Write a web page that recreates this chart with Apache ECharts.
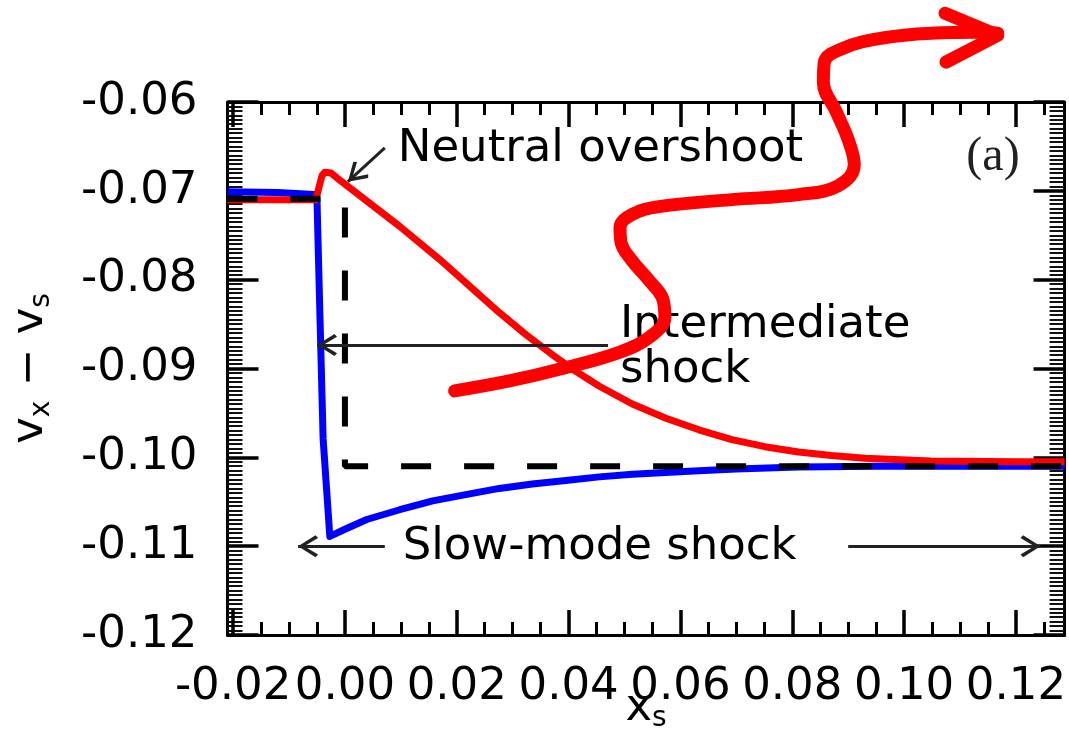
<!DOCTYPE html>
<html>
<head>
<meta charset="utf-8">
<script src="https://cdn.jsdelivr.net/npm/echarts@6/dist/echarts.min.js"></script>
<style>
  html, body { margin: 0; padding: 0; background: #fff; }
  #chart { width: 1069px; height: 738px; }
</style>
</head>
<body>
<div id="chart"></div>
<script>
// ---- axes ----
const xRange = [-0.021, 0.1287];
const yRange = [-0.12, -0.06];
const xMajorTicks = [-0.02, 0.00, 0.02, 0.04, 0.06, 0.08, 0.10, 0.12];
const xMinorTicks = [-0.015, -0.01, -0.005, 0.005, 0.01, 0.015, 0.025, 0.03, 0.035,
  0.045, 0.05, 0.055, 0.065, 0.07, 0.075, 0.085, 0.09, 0.095, 0.105, 0.11, 0.115, 0.125];
const yStep = 0.01;

// ---- plasma velocity (blue) ----
const plasmaX = [-0.021, -0.012, -0.0055, -0.0050, -0.0045, -0.0039, -0.0033, -0.0027,
  0.0000, 0.0039, 0.0098, 0.0157, 0.0216, 0.0276, 0.0335, 0.0395, 0.0455, 0.0514,
  0.0574, 0.0633, 0.0700, 0.0811, 0.0950, 0.1100, 0.1287];
const plasmaV = [-0.0701, -0.0702, -0.0704, -0.0709, -0.0833, -0.0979, -0.1034, -0.1089,
  -0.1081, -0.1070, -0.1059, -0.1049, -0.1042, -0.1035, -0.1030, -0.1026, -0.1022, -0.1019,
  -0.1017, -0.1015, -0.1013, -0.1011, -0.1010, -0.1010, -0.1010];

// ---- neutral velocity (red) ----
const neutralX = [-0.021, -0.0052, -0.0046, -0.0041, -0.0036, -0.0025, -0.0009, 0.0098,
  0.0169, 0.0276, 0.0324, 0.0370, 0.0410, 0.0455, 0.0514, 0.0574, 0.0633, 0.0692, 0.0751,
  0.0811, 0.0870, 0.0930, 0.1048, 0.1200, 0.1287];
const neutralV = [-0.0710, -0.0710, -0.0695, -0.0683, -0.0679, -0.0680, -0.0688, -0.0740,
  -0.0777, -0.0837, -0.0862, -0.0884, -0.0902, -0.0920, -0.0940, -0.0956, -0.0969, -0.0980, -0.0988,
  -0.0994, -0.0998, -0.1001, -0.1004, -0.1005, -0.1005];

// ---- single-fluid jump (black dashed) ----
const jumpX = [-0.021, 0.0, 0.0, 0.1287];
const jumpV = [-0.0709, -0.0709, -0.1010, -0.1010];

// ---- annotations ----
const noteText = ['Neutral overshoot', 'Intermediate\nshock', 'Slow-mode shock'];
const noteX = [0.00945, 0.0492, 0.01034];
const noteY = [-0.06538, -0.08764, -0.11013];
const arrowFromX = [0.00713, 0.04706, 0.00713, 0.0900];
const arrowFromY = [-0.06516, -0.08736, -0.1100, -0.1100];
const arrowToX = [0.00053, -0.00499, -0.00838, 0.1244];
const arrowToY = [-0.06897, -0.08736, -0.1100, -0.1100];
const panelTag = '(a)';
const panelTagX = 0.1159;
const panelTagY = -0.06628;

// ---- red freehand arrow drawn over the panel ----
const sweepX = [0.01961, 0.02941, 0.03850, 0.04920, 0.05472, 0.05722, 0.05686, 0.05437,
  0.05116, 0.04938, 0.04920, 0.05134, 0.05615, 0.06916, 0.08111, 0.08824, 0.09109, 0.09002,
  0.08788, 0.08556, 0.08574, 0.08913, 0.09590, 0.10481, 0.11373, 0.11676];
const sweepY = [-0.09252, -0.09140, -0.09006, -0.08815, -0.08635, -0.08422, -0.08220, -0.08007,
  -0.07772, -0.07581, -0.07413, -0.07267, -0.07178, -0.07099, -0.07043, -0.06942, -0.06707, -0.06426,
  -0.06112, -0.05776, -0.05551, -0.05394, -0.05282, -0.05226, -0.05215, -0.05226];
const sweepHeadX = [0.10731, 0.11676, 0.10749];
const sweepHeadY = [-0.05002, -0.05249, -0.05551];

const FONT = 'DejaVu Sans';
const pair = (xs, ys) => xs.map((x, i) => [x, ys[i]]);
const fmt = v => v.toFixed(2);
const chevron = 'path://M10,0 L20,17 L17.5,19.5 L10,6 L2.5,19.5 L0,17 Z';

const nameRich = {
  m: { fontFamily: FONT, fontSize: 45, color: '#000', lineHeight: 50 },
  s: { fontFamily: FONT, fontSize: 28, color: '#000', lineHeight: 28, verticalAlign: 'bottom' }
};

function xAxisDef(position, ticks, len, width, withLabels, withLine) {
  return {
    type: 'value', position, min: xRange[0], max: xRange[1],
    axisLine: { show: withLine, lineStyle: { color: '#000', width: 3 } },
    splitLine: { show: false },
    axisTick: { show: true, inside: true, length: len, customValues: ticks,
      lineStyle: { color: '#000', width } },
    axisLabel: withLabels ? { show: true, customValues: ticks, formatter: fmt, margin: 30,
      fontFamily: FONT, fontSize: 45, color: '#000' } : { show: false }
  };
}

function yAxisDef(position, withLabels) {
  return {
    type: 'value', position, min: yRange[0], max: yRange[1], interval: yStep,
    axisLine: { show: true, onZero: false, lineStyle: { color: '#000', width: 3 } },
    splitLine: { show: false },
    axisTick: { show: true, inside: true, length: 31, lineStyle: { color: '#000', width: 3.5 } },
    minorTick: { show: true, splitNumber: 20, length: 15, lineStyle: { color: '#111', width: 2 } },
    axisLabel: withLabels ? { show: true, formatter: fmt, margin: 30,
      fontFamily: FONT, fontSize: 45, color: '#000' } : { show: false }
  };
}

const xBottom = xAxisDef('bottom', xMajorTicks, 25, 3.5, true, true);
xBottom.name = '{m|x}{s|s}';
xBottom.nameLocation = 'middle';
xBottom.nameGap = 48;
xBottom.nameMoveOverlap = false;
xBottom.nameTextStyle = { rich: nameRich };

const yLeft = yAxisDef('left', true);
yLeft.name = '{m|v}{s|x}{m| − v}{s|s}';
yLeft.nameLocation = 'middle';
yLeft.nameGap = 172;
yLeft.nameMoveOverlap = false;
yLeft.nameTextStyle = { rich: nameRich };

const chart = echarts.init(document.getElementById('chart'), null, { renderer: 'canvas' });
chart.setOption({
  animation: false,
  backgroundColor: '#fff',
  grid: { left: 227, right: 2, top: 102, bottom: 101, containLabel: false },
  xAxis: [
    xBottom,
    xAxisDef('bottom', xMinorTicks, 13, 3, false, false),
    xAxisDef('top', xMajorTicks, 25, 3.5, false, true),
    xAxisDef('top', xMinorTicks, 13, 3, false, false)
  ],
  yAxis: [yLeft, yAxisDef('right', false)],
  series: [
    {
      type: 'line', name: 'plasma', data: pair(plasmaX, plasmaV),
      showSymbol: false, z: 2,
      lineStyle: { color: '#0000ff', width: 7, join: 'round' }
    },
    {
      type: 'line', name: 'neutral', data: pair(neutralX, neutralV),
      showSymbol: false, z: 3,
      lineStyle: { color: '#ff0000', width: 7, join: 'round' }
    },
    {
      type: 'line', name: 'jump', data: pair(jumpX, jumpV),
      showSymbol: false, z: 4,
      lineStyle: { color: '#000', width: 6, type: [30, 33] }
    },
    {
      type: 'scatter', name: 'notes', symbolSize: 0, z: 5, silent: true,
      itemStyle: { opacity: 1 },
      data: noteText.map((t, i) => ({ value: [noteX[i], noteY[i]], name: t })),
      label: { show: true, position: 'right', distance: 0, formatter: '{b}',
        fontFamily: FONT, fontSize: 45, lineHeight: 45, color: '#000', opacity: 1 },
      markLine: {
        silent: true, animation: false,
        symbol: ['none', chevron], symbolSize: [22, 20], symbolOffset: [[0, 0], [0, 10]],
        label: { show: false },
        lineStyle: { color: '#222', width: 3, type: 'solid', opacity: 1 },
        emphasis: { disabled: true },
        data: arrowFromX.map((x, i) => [
          { coord: [x, arrowFromY[i]] },
          { coord: [arrowToX[i], arrowToY[i]] }
        ])
      }
    },
    {
      type: 'scatter', name: 'panel', symbolSize: 0, z: 5, silent: true,
      itemStyle: { opacity: 1 },
      data: [{ value: [panelTagX, panelTagY], name: panelTag }],
      label: { show: true, position: 'inside', formatter: '{b}',
        fontFamily: 'Liberation Serif', fontSize: 48, color: '#222', opacity: 1 }
    },
    {
      type: 'line', name: 'sweep', data: pair(sweepX, sweepY), clip: false,
      smooth: 0.4, showSymbol: false, z: 10, silent: true,
      lineStyle: { color: '#ff0000', width: 13, cap: 'round', join: 'round' }
    },
    {
      type: 'line', name: 'sweepHead', data: pair(sweepHeadX, sweepHeadY), clip: false,
      showSymbol: false, z: 10, silent: true,
      lineStyle: { color: '#ff0000', width: 13, cap: 'round', join: 'round' }
    }
  ]
});
</script>
</body>
</html>
